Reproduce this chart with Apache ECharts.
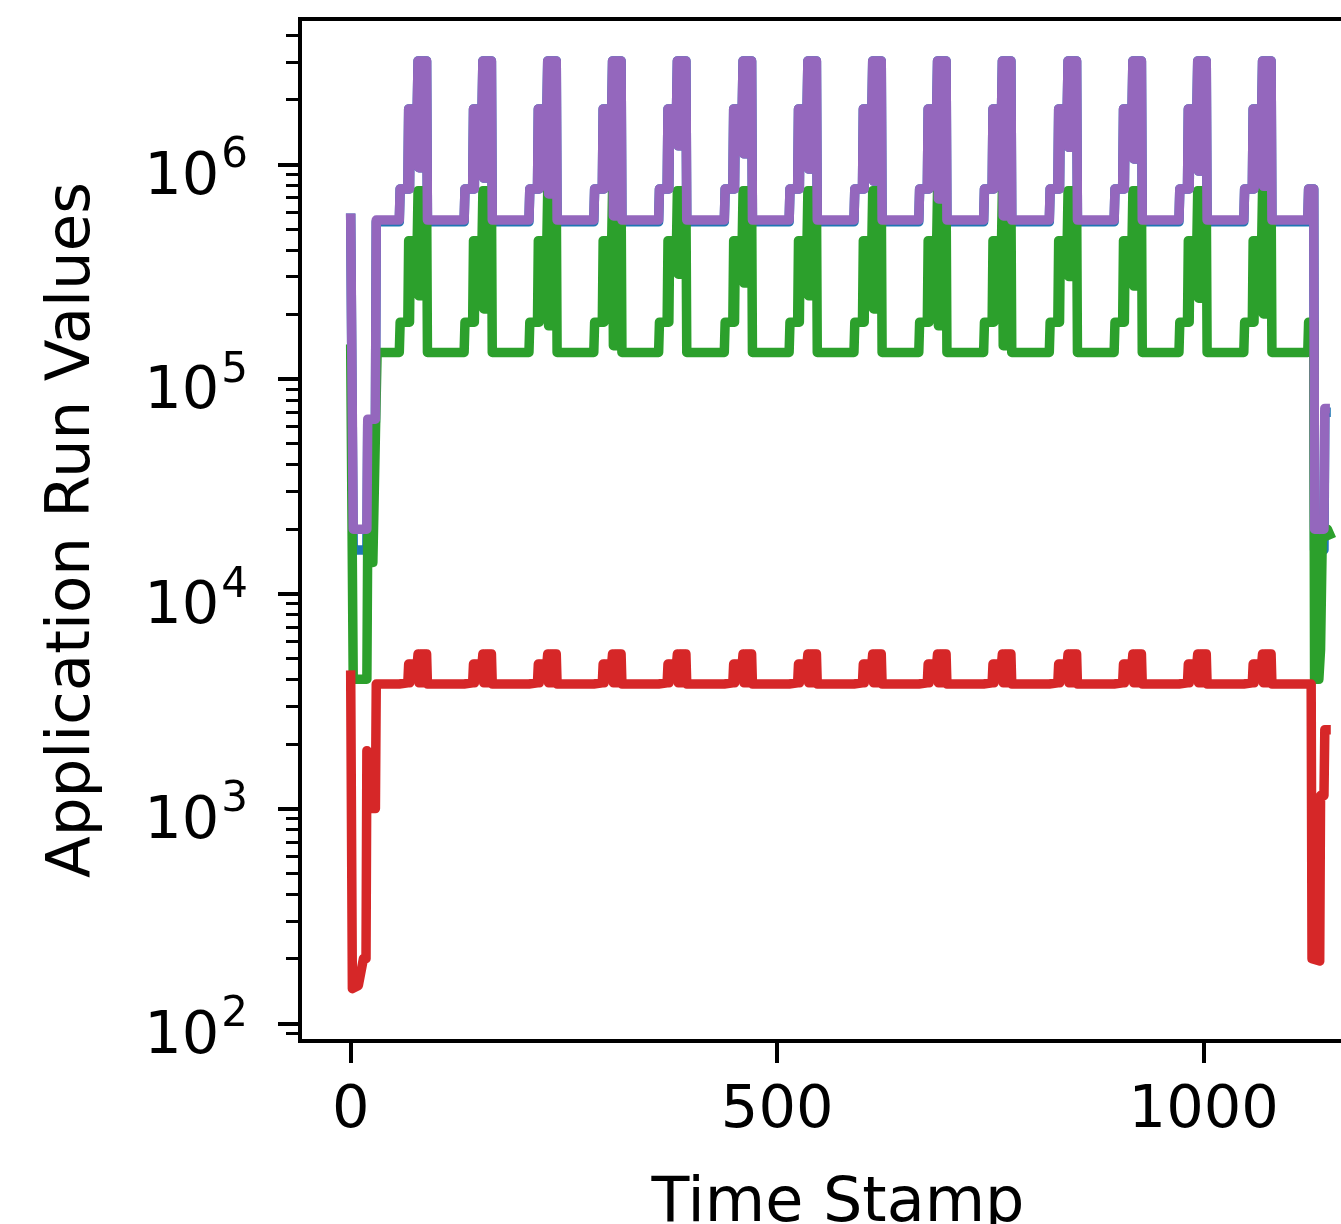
<!DOCTYPE html>
<html>
<head>
<meta charset="utf-8">
<script src="https://cdn.jsdelivr.net/npm/echarts@6/dist/echarts.min.js"></script>
<style>
html, body { margin: 0; padding: 0; background: #ffffff; overflow: hidden; }
#frame { width: 1341px; height: 1224px; overflow: hidden; position: relative; }
#chart { width: 1440px; height: 1224px; position: absolute; left: 0; top: 0; }
</style>
</head>
<body>
<div id="frame"><div id="chart"></div></div>
<script>
// ---- Data ----
// Time stamps at which each of the 14 periodic bursts starts
const cycleStarts = [57, 133, 209, 285, 361, 438, 514, 590, 666, 742, 819, 895, 971, 1047];

// Levels of each series inside a burst: [baseline, first step, middle block, peak block]
const blueLevels   = [540000, 768000, 1810000, 3030000];
const greenLevels  = [133000, 184000, 441000, 754000];
const redLevels    = [3800, 3850, 4710, 5250];
const purpleLevels = [550000, 768000, 1810000, 3030000];

// Lower bound of the fast oscillation in the peak block, one value per burst
const purpleNotch = [964000, 863000, 728000, 575000, 1220000, 1120000, 950000, 836000, 690000, 575000, 1200000, 1060000, 930000, 790000];
const blueNotch   = [964000, 863000, 728000, 575000, 1220000, 1120000, 950000, 836000, 690000, 575000, 1200000, 1060000, 930000, 790000];
const greenNotch  = [244000, 212000, 177000, 143000, 308000, 280000, 244000, 212000, 177000, 143000, 300000, 271000, 238000, 201000];
const redNotch    = [3850, 3850, 3850, 3850, 3850, 3850, 3850, 3850, 3850, 3850, 3850, 3850, 3850, 3850];

// Start-up and shut-down segments [time, value]
const blueStart   = [[0, 590000], [3, 16000], [19, 16000], [20, 63000], [29, 63000], [30, 540000]];
const greenStart  = [[0, 145000], [3, 4000], [19, 4000], [20, 18500], [25, 18500], [26, 14000], [28, 14000], [29, 55000], [30, 55000], [31, 133000]];
const redStart    = [[0, 4400], [2, 145], [9, 150], [15, 200], [18, 200], [19, 1860], [23, 1000], [29, 1000], [30, 3800]];
const purpleStart = [[0, 590000], [3, 20000], [19, 20000], [20, 65000], [29, 65000], [30, 550000]];

const blueEnd   = [[1122, 540000], [1123, 768000], [1129, 768000], [1130, 16000], [1141, 16000], [1142, 70000], [1149, 70000]];
const greenEnd  = [[1122, 133000], [1123, 184000], [1129, 184000], [1130, 4000], [1135, 4000], [1137, 5500], [1139, 18000], [1145, 20000], [1150, 18000]];
const redEnd    = [[1126, 3800], [1127, 200], [1136, 195], [1137, 1150], [1141, 1150], [1142, 2330], [1149, 2330]];
const purpleEnd = [[1122, 550000], [1123, 768000], [1129, 768000], [1130, 20000], [1141, 20000], [1142, 73000], [1148, 73000]];

// Tick values
const xTickValues = [0, 500, 1000];
const yTickValues = [100, 1000, 10000, 100000, 1000000];
const yMinorValues = [90,
  200, 300, 400, 500, 600, 700, 800, 900,
  2000, 3000, 4000, 5000, 6000, 7000, 8000, 9000,
  20000, 30000, 40000, 50000, 60000, 70000, 80000, 90000,
  200000, 300000, 400000, 500000, 600000, 700000, 800000, 900000,
  2000000, 3000000, 4000000];

// ---- Build the polyline of a series from the values above ----
function buildSeries(start, levels, notch, end) {
  const base = levels[0], step = levels[1], mid = levels[2], peak = levels[3];
  const pts = start.slice();
  cycleStarts.forEach(function (c, i) {
    pts.push([c, base], [c + 1, step], [c + 10, step]);
    // middle block: fast oscillation between step and mid
    pts.push([c + 11, mid], [c + 12, step], [c + 13, mid], [c + 21, mid]);
    // peak block: fast oscillation between notch and peak
    for (let k = 0; k <= 10; k++) {
      pts.push([c + 22 + k, k % 2 === 0 ? peak : notch[i]]);
    }
    pts.push([c + 33, base]);
  });
  return pts.concat(end);
}

const FONT = 'DejaVu Sans';
const chart = echarts.init(document.getElementById('chart'), null, { renderer: 'canvas' });

function lineSeries(name, color, data) {
  return {
    name: name,
    type: 'line',
    data: data,
    symbol: 'none',
    showSymbol: false,
    silent: true,
    animation: false,
    clip: true,
    lineStyle: { color: color, width: 9.5, join: 'round', cap: 'butt' },
    emphasis: { disabled: true }
  };
}

const option = {
  animation: false,
  backgroundColor: '#ffffff',
  grid: {
    left: 300, top: 19, width: 1076, height: 1022,
    outerBoundsMode: 'none',
    containLabel: false,
    show: true, borderColor: '#000000', borderWidth: 4, backgroundColor: 'transparent'
  },
  xAxis: {
    type: 'value',
    min: -59.4,
    max: 1202,
    name: 'Time Stamp',
    nameLocation: 'middle',
    nameGap: 133,
    nameTextStyle: { fontFamily: FONT, fontSize: 62, color: '#000000' },
    axisLine: { show: true, onZero: false, lineStyle: { color: '#000000', width: 4 } },
    axisTick: { show: true, length: 22, customValues: xTickValues, lineStyle: { color: '#000000', width: 4 } },
    axisLabel: {
      show: true, customValues: xTickValues, fontFamily: FONT, fontSize: 59, color: '#000000', margin: 41,
      formatter: function (v) { return String(v); }
    },
    splitLine: { show: false }
  },
  yAxis: [
    {
      type: 'log',
      logBase: 10,
      min: 82.7,
      max: 4.75e6,
      position: 'left',
      name: 'Application Run Values',
      nameLocation: 'middle',
      nameGap: 196,
      nameRotate: 90,
      nameTextStyle: { fontFamily: FONT, fontSize: 61, color: '#000000' },
      axisLine: { show: true, onZero: false, lineStyle: { color: '#000000', width: 4 } },
      axisTick: { show: true, length: 22, customValues: yTickValues, lineStyle: { color: '#000000', width: 4 } },
      axisLabel: {
        show: true,
        customValues: yTickValues,
        margin: 52,
        formatter: function (v) { return '{b|10}{e|' + Math.round(Math.log10(v)) + '}'; },
        rich: {
          b: { fontFamily: FONT, fontSize: 59, color: '#000000', padding: [28, 0, 0, 0] },
          e: { fontFamily: FONT, fontSize: 42, color: '#000000', padding: [0, 0, 16, 2] }
        }
      },
      splitLine: { show: false },
      minorTick: { show: false }
    },
    {
      type: 'log',
      logBase: 10,
      min: 82.7,
      max: 4.75e6,
      position: 'left',
      offset: 0,
      axisLine: { show: false, onZero: false },
      axisTick: { show: true, length: 14, customValues: yMinorValues, lineStyle: { color: '#000000', width: 3 } },
      axisLabel: { show: false },
      splitLine: { show: false }
    }
  ],
  series: [
    lineSeries('blue', '#1f77b4', buildSeries(blueStart, blueLevels, blueNotch, blueEnd)),
    lineSeries('green', '#2ca02c', buildSeries(greenStart, greenLevels, greenNotch, greenEnd)),
    lineSeries('red', '#d62728', buildSeries(redStart, redLevels, redNotch, redEnd)),
    lineSeries('purple', '#9467bd', buildSeries(purpleStart, purpleLevels, purpleNotch, purpleEnd))
  ]
};
chart.setOption(option);
</script>
</body>
</html>
